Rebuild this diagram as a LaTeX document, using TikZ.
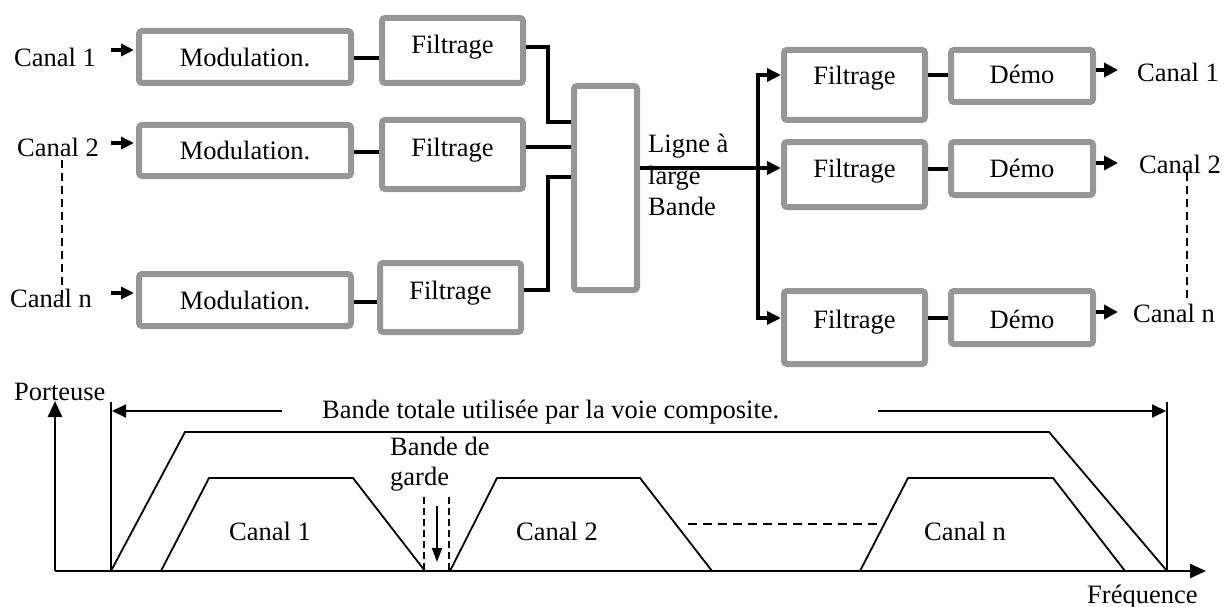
\documentclass[tikz,border=0pt]{standalone}
\usepackage{fontspec}
\setmainfont{Liberation Serif}
\usetikzlibrary{arrows.meta}
\definecolor{boxgray}{RGB}{150,150,150}
\begin{document}
\begin{tikzpicture}[x=1pt,y=-1pt,
  box/.style={draw=boxgray, line width=6pt, rounded corners=3pt, fill=white, inner sep=0pt},
  txt/.style={inner sep=0pt, font=\fontsize{26.5}{31}\selectfont},
  wire/.style={line width=4pt},
  fine/.style={line width=1.8pt},
  axisline/.style={line width=2.5pt},
  dashv/.style={line width=1.8pt, dash pattern=on 8pt off 5pt},
  tipin/.style={-{Triangle[length=13pt,width=12pt]}},
  tipbus/.style={-{Triangle[length=14pt,width=13pt]}},
  tipout/.style={-{Triangle[length=14pt,width=14pt]}},
  tipax/.style={-{Triangle[length=16pt,width=14pt]}},
  tipband/.style={-{Triangle[length=14pt,width=13pt]}}]
\useasboundingbox (0,0) rectangle (1228,607);

% ---------- emitting side ----------
\node[box, minimum width=212pt, minimum height=52pt] (m1) at (245,57) {};
\node[box, minimum width=212pt, minimum height=51pt] (m2) at (245,150.5) {};
\node[box, minimum width=212pt, minimum height=52pt] (mn) at (245,300) {};
\node[box, minimum width=141pt, minimum height=65pt] (f1) at (452.5,50.5) {};
\node[box, minimum width=141pt, minimum height=69pt] (f2) at (452.5,154.5) {};
\node[box, minimum width=141pt, minimum height=69pt] (fn) at (450.5,297.5) {};
\node[box, minimum width=63pt, minimum height=204pt] (mux) at (605.5,188) {};

\node[txt, anchor=base] (m1t) at (245,67) {Modulation.};
\node[txt, anchor=base] (m2t) at (245,159) {Modulation.};
\node[txt, anchor=base] (mnt) at (245,309) {Modulation.};
\node[txt, anchor=base] (f1t) at (452.5,54) {Filtrage};
\node[txt, anchor=base] (f2t) at (452.5,156) {Filtrage};
\node[txt, anchor=base] (fnt) at (450.5,299) {Filtrage};

\node[txt, anchor=base west] (cin1) at (14,67) {Canal 1};
\node[txt, anchor=base west] (cin2) at (17,157) {Canal 2};
\node[txt, anchor=base west] (cinn) at (10,307) {Canal n};

\coordinate (i1) at (111,50);
\coordinate (i2) at (111,143);
\coordinate (in) at (111,293);
\draw[wire, tipin, shorten >=2pt] (i1) -- (m1.west |- i1);
\draw[wire, tipin, shorten >=2pt] (i2) -- (m2.west |- i2);
\draw[wire, tipin, shorten >=2pt] (in) -- (mn.west |- in);

\draw[dashv] (62,160) -- (62,303);

\draw[wire] (m1.east |- 0,58) -- (f1.west |- 0,58);
\draw[wire] (m2.east |- 0,152) -- (f2.west |- 0,152);
\draw[wire] (mn.east |- 0,302) -- (fn.west |- 0,302);

\coordinate (jl) at (548,0);
\draw[wire] (f1.east |- 0,47) -| (jl |- 0,122) -- (mux.west |- 0,122);
\draw[wire] (f2.east |- 0,147) -- (mux.west |- 0,147);
\draw[wire] (fn.east |- 0,290) -| (jl |- 0,177) -- (mux.west |- 0,177);

% ---------- broadband line ----------
\node[txt, anchor=base west] (lg1) at (648,153) {Ligne à};
\node[txt, anchor=base west] (lg2) at (648,184) {large};
\node[txt, anchor=base west] (lg3) at (648,215) {Bande};

% ---------- receiving side ----------
\node[box, minimum width=141pt, minimum height=70pt] (rf1) at (854.5,85) {};
\node[box, minimum width=142pt, minimum height=52pt] (rd1) at (1022,76) {};
\node[box, minimum width=141pt, minimum height=65pt] (rf2) at (854.5,174.5) {};
\node[box, minimum width=142pt, minimum height=53pt] (rd2) at (1022,168.5) {};
\node[box, minimum width=141pt, minimum height=73pt] (rfn) at (854.5,327.5) {};
\node[box, minimum width=142pt, minimum height=53pt] (rdn) at (1022,317.5) {};

\node[txt, anchor=base] (rf1t) at (854.5,85) {Filtrage};
\node[txt, anchor=base] (rf2t) at (854.5,177) {Filtrage};
\node[txt, anchor=base] (rfnt) at (854.5,328) {Filtrage};
\node[txt, anchor=base] (rd1t) at (1022,84) {Démo};
\node[txt, anchor=base] (rd2t) at (1022,177) {Démo};
\node[txt, anchor=base] (rdnt) at (1022,328) {Démo};

\node[txt, anchor=base west] (cout1) at (1137,82) {Canal 1};
\node[txt, anchor=base west] (cout2) at (1139,173) {Canal 2};
\node[txt, anchor=base west] (coutn) at (1133,322) {Canal n};

\coordinate (jr) at (758,0);
\draw[wire, tipbus] (mux.east |- 0,168) -- (rf2.west |- 0,168);
\draw[wire, tipbus] (jr |- 0,168) |- (rf1.west |- 0,75);
\draw[wire, tipbus] (jr |- 0,168) |- (rfn.west |- 0,318);

\draw[wire] (rf1.east |- 0,75) -- (rd1.west |- 0,75);
\draw[wire] (rf2.east |- 0,169) -- (rd2.west |- 0,169);
\draw[wire] (rfn.east |- 0,318) -- (rdn.west |- 0,318);

\coordinate (o1) at (1118,70);
\coordinate (o2) at (1118,163);
\coordinate (on) at (1118,312);
\draw[wire, tipout] (rd1.east |- o1) -- (o1);
\draw[wire, tipout] (rd2.east |- o2) -- (o2);
\draw[wire, tipout] (rdn.east |- on) -- (on);

\draw[dashv] (1187,173) -- (1187,303);

% ---------- spectrum ----------
\coordinate (O) at (55,571);
\coordinate (ytip) at (55,401);
\coordinate (xtip) at (1206,571);
\draw[axisline, tipax] (O) -- (ytip);
\draw[axisline, tipax] (O) -- (xtip);
\node[txt, anchor=base west] (port) at (14,400) {Porteuse};
\node[txt, anchor=base west] (freq) at (1087,603) {Fréquence};

% total band limits and arrows
\draw[fine] (111,571) -- (111,402);
\draw[fine] (1167,571) -- (1167,402);
\node[txt, anchor=base west] (btot) at (322,418) {Bande totale utilisée par la voie composite.};
\coordinate (bl) at (112,411);
\coordinate (br) at (1166,411);
\draw[fine, tipband] (282,411) -- (bl);
\draw[fine, tipband] (878,411) -- (br);

% composite envelope
\draw[fine, line join=miter] (111,571) -- (185,432) -- (1049,432) -- (1167,571);

% individual channels
\draw[fine] (161,571) -- (209,478) -- (353,478) -- (425,571);
\draw[fine] (450,571) -- (497,478) -- (640,478) -- (712,571);
\draw[fine] (860,571) -- (908,478) -- (1053,478) -- (1125,571);
\draw[fine, dash pattern=on 9pt off 6pt] (688,524) -- (878,524);

\node[txt, anchor=base west] (lc1) at (229,540) {Canal 1};
\node[txt, anchor=base west] (lc2) at (516,540) {Canal 2};
\node[txt, anchor=base west] (lcn) at (924,540) {Canal n};

% guard band
\node[txt, anchor=base west] (gb1) at (390,455) {Bande de};
\node[txt, anchor=base west] (gb2) at (390,485) {garde};
\draw[fine, dash pattern=on 7pt off 4pt] (424,497) -- (424,571);
\draw[fine, dash pattern=on 7pt off 4pt] (449,497) -- (449,571);
\coordinate (gtip) at (437,562);
\draw[fine, -{Triangle[length=14pt,width=10pt]}] (437,506) -- (gtip);
\end{tikzpicture}
\end{document}
